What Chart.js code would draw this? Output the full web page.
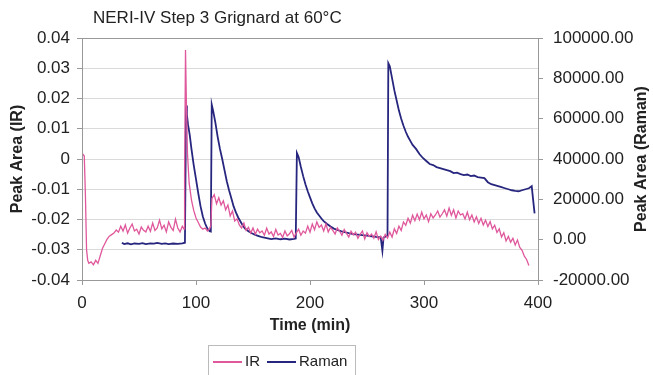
<!DOCTYPE html>
<html>
<head>
<meta charset="utf-8">
<script src="https://cdn.jsdelivr.net/npm/chart.js@4"></script>
<style>
  html, body { margin: 0; padding: 0; background: #fff; }
</style>
</head>
<body>
<canvas id="chart" width="653" height="375"></canvas>
<script>
// --- Data ---
const chartTitle = 'NERI-IV Step 3 Grignard at 60°C';

const irTime = [0, 1, 2, 3, 4, 5, 6, 8, 10, 12, 14, 16, 18, 20, 22, 24, 26, 28, 30, 32, 34, 36, 38, 40,
  42, 44, 46, 48, 50, 52, 54, 56, 58, 60, 62, 64, 66, 68, 70, 72, 74, 76, 78, 80, 82, 84, 86, 88, 89.5,
  90, 90.8, 91.5, 92.5, 94, 96, 98, 100, 102, 104, 106, 108, 110, 112, 113, 114, 116, 118, 120, 122,
  124, 126, 128, 130, 132, 134, 136, 138, 140, 142, 144, 146, 148, 150, 152, 154, 156, 158, 160, 162,
  164, 166, 168, 170, 172, 174, 176, 178, 180, 182, 184, 186, 188, 190, 192, 194, 196, 198, 200, 202,
  204, 206, 208, 210, 212, 214, 216, 218, 220, 222, 224, 226, 228, 230, 232, 234, 236, 238, 240, 242,
  244, 246, 248, 250, 252, 254, 256, 258, 260, 262, 264, 266, 268, 270, 272, 274, 276, 278, 280, 282,
  284, 286, 288, 290, 292, 294, 296, 298, 300, 302, 304, 306, 308, 310, 312, 314, 316, 318, 320, 322,
  324, 326, 328, 330, 332, 334, 336, 338, 340, 342, 344, 346, 348, 350, 352, 354, 356, 358, 360, 362,
  364, 366, 368, 370, 372, 374, 376, 378, 380, 382, 384, 386, 388, 390, 392];
const irPeak = [0.0005, 0.0015, 0.001, -0.012, -0.030, -0.0335, -0.0345, -0.034, -0.035, -0.0335, -0.0345,
  -0.032, -0.0295, -0.028, -0.0265, -0.0255, -0.025, -0.0245,
  -0.0235, -0.0242, -0.0222, -0.0238, -0.0218, -0.0245, -0.0228, -0.0215, -0.0238, -0.0232, -0.0248, -0.0225,
  -0.0236, -0.0241, -0.0222, -0.0239, -0.0212, -0.0236, -0.0228, -0.0202, -0.0231, -0.0219, -0.0241, -0.0208,
  -0.0226, -0.0236, -0.0199, -0.0228, -0.0241, -0.0222, -0.0232,
  -0.005, 0.036, 0.02, 0.002, -0.008, -0.0135, -0.017, -0.0195, -0.021, -0.0225, -0.0232, -0.0228, -0.0238,
  -0.023, -0.022, -0.013, -0.0118, -0.0148, -0.0128, -0.0152,
  -0.0138, -0.0168, -0.0152, -0.0188, -0.0172, -0.0205, -0.0198, -0.0218, -0.0228, -0.0212, -0.0236, -0.0226,
  -0.0245, -0.0228, -0.0249, -0.0232, -0.0244, -0.0238, -0.0252, -0.0229,
  -0.0248, -0.0241, -0.0256, -0.0233, -0.0251, -0.0246, -0.0259, -0.0238, -0.0254, -0.0247, -0.0236, -0.0258,
  -0.0244, -0.0232, -0.0252, -0.0238, -0.0245, -0.0222, -0.0242, -0.0215,
  -0.0234, -0.0208, -0.0226, -0.0218, -0.0238, -0.0215, -0.0241, -0.0226, -0.0236, -0.0248, -0.0228, -0.0239,
  -0.0252, -0.0233, -0.0246, -0.0258, -0.0239, -0.0251, -0.0242, -0.0262,
  -0.0249, -0.0238, -0.0264, -0.0244, -0.0256, -0.0248, -0.0262, -0.0241, -0.0266, -0.0255, -0.0268, -0.0249,
  -0.0261, -0.0242, -0.0258, -0.0231, -0.0246, -0.0222, -0.0236, -0.0208,
  -0.0219, -0.0196, -0.0212, -0.0186, -0.0204, -0.0182, -0.0201, -0.0176, -0.0198, -0.0185, -0.0207, -0.0181,
  -0.0195, -0.0185, -0.0172, -0.0192, -0.0181, -0.0168, -0.0189, -0.0162,
  -0.0186, -0.0168, -0.0195, -0.0172, -0.0185, -0.0181, -0.0198, -0.0176, -0.0201, -0.0185, -0.0208, -0.0191,
  -0.0213, -0.0196, -0.0218, -0.0202, -0.0223, -0.0207, -0.0231, -0.0219,
  -0.0243, -0.0231, -0.0258, -0.0244, -0.0271, -0.0256, -0.0275, -0.0262, -0.0284, -0.0268, -0.0292, -0.0302,
  -0.0321, -0.0332, -0.0352];

const ramanTime = [35, 37, 40, 43, 46, 50, 53, 56, 60, 63, 66, 70, 73, 76, 80, 84, 88, 90.3,
  91.3, 92, 93, 94.5, 96, 98, 100, 102, 104, 106, 108, 110, 112, 113,
  113.8, 115, 117, 119, 121, 123, 125, 127, 129, 131, 133, 135, 137, 139, 141, 143, 146, 149, 152, 155,
  158, 162, 166, 170, 174, 178, 182, 186, 187.5,
  188.5, 190, 192, 194, 196, 198, 200, 202, 204, 206, 208, 210, 212, 215, 218, 221, 224, 227, 230, 234,
  238, 242, 246, 250, 254, 258, 262, 263.5, 264.5, 266, 268,
  268.7, 270, 272, 274, 276, 278, 280, 282, 284, 286, 288, 290, 293, 296, 299, 302, 305, 308, 311, 314,
  317, 320, 323, 326, 329, 332, 335, 338, 341, 344, 347, 350, 353, 356, 359, 362, 365, 368, 371, 374,
  377, 380, 383, 386, 389, 392, 394.5, 395.5, 397];
const ramanPeak = [-1500, -2200, -1800, -2300, -1900, -2100, -1700, -2200, -1800, -2000, -1600, -2100,
  -1800, -2200, -1900, -2100, -1800, -1500,
  66500, 62000, 57000, 52000, 45000, 37000, 30000, 23000, 16500, 11500, 8000, 5500, 4200, 4000,
  67000, 64000, 58000, 51000, 45000, 40000, 34500, 29000, 24500, 20500, 16500, 13500, 11000, 9000, 7000,
  5500, 4200, 3200, 2400, 1800, 1200, 800, 300, 600, 200, 500, 100, 400, 600,
  43000, 41000, 36000, 31500, 27500, 24000, 21000, 18000, 15500, 13500, 12000, 10500, 9200, 7800, 6500,
  5500, 4800, 4200, 3800, 3200, 2800, 2500, 2200, 2000, 1700, 1400, 1200, -5500, 1000, 1500, 2000,
  87500, 86000, 80000, 74000, 69000, 64000, 60000, 56500, 53500, 51000, 49000, 47000, 45000, 42500,
  40500, 39000, 37500, 37000, 36000, 35500, 35000, 34500, 34000, 33000, 33200, 32500, 32000, 32300,
  31500, 31800, 31000, 30800, 30500, 28500, 27500, 27000, 26500, 26000, 25500, 25000, 24500, 24200,
  24000, 24500, 25000, 25500, 26500, 21000, 13000];

const irColor = '#e0589c';
const ramanColor = '#27267f';
const font = "'Liberation Sans', Arial, sans-serif";

function toPoints(xs, ys) {
    return xs.map((x, i) => ({ x: x, y: ys[i] }));
}

// draws the title, the plot frame, the right axis title and the boxed legend
const decorPlugin = {
    id: 'decor',
    afterDraw(chart) {
        const ctx = chart.ctx;
        const a = chart.chartArea;
        ctx.save();
        ctx.strokeStyle = '#999';
        ctx.lineWidth = 1;
        ctx.strokeRect(a.left + 0.5, a.top + 0.5, a.right - a.left, a.bottom - a.top);

        ctx.fillStyle = '#222';
        ctx.font = '17px ' + font;
        ctx.textBaseline = 'middle';
        ctx.fillText(chartTitle, 93, 18);

        // right axis title reads bottom to top
        ctx.save();
        ctx.translate(642, (a.top + a.bottom) / 2);
        ctx.rotate(-Math.PI / 2);
        ctx.textAlign = 'center';
        ctx.font = 'bold 16px ' + font;
        ctx.fillText('Peak Area (Raman)', 0, 0);
        ctx.restore();

        // legend box
        ctx.strokeStyle = '#bbb';
        ctx.strokeRect(208.5, 345.5, 147, 34);
        ctx.font = '15px ' + font;
        let x = 213;
        chart.data.datasets.forEach(ds => {
            ctx.strokeStyle = ds.borderColor;
            ctx.lineWidth = 2;
            ctx.beginPath();
            ctx.moveTo(x, 362);
            ctx.lineTo(x + 29, 362);
            ctx.stroke();
            ctx.fillStyle = '#222';
            ctx.fillText(ds.label, x + 32, 362);
            x += 32 + ctx.measureText(ds.label).width + 7;
        });
        ctx.restore();
    }
};

new Chart(document.getElementById('chart'), {
    type: 'line',
    data: {
        datasets: [
            {
                label: 'IR',
                data: toPoints(irTime, irPeak),
                borderColor: irColor,
                borderWidth: 1.3,
                yAxisID: 'y'
            },
            {
                label: 'Raman',
                data: toPoints(ramanTime, ramanPeak),
                borderColor: ramanColor,
                borderWidth: 1.8,
                yAxisID: 'y1'
            }
        ]
    },
    options: {
        responsive: false,
        animation: false,
        parsing: false,
        elements: { point: { radius: 0 }, line: { tension: 0 } },
        layout: { padding: { left: 8, right: 5, top: 38, bottom: 40 } },
        plugins: { legend: { display: false }, tooltip: { enabled: false } },
        scales: {
            x: {
                type: 'linear',
                min: 0,
                max: 400,
                ticks: { stepSize: 100, color: '#222', font: { family: font, size: 17 }, padding: 8, maxRotation: 0 },
                grid: { drawOnChartArea: false, tickLength: 5, tickColor: '#999' },
                border: { color: '#999' },
                title: { display: true, text: 'Time (min)', color: '#222', padding: 0, font: { family: font, size: 16, weight: 'bold' } },
                afterFit: s => { s.height = 55; }
            },
            y: {
                position: 'left',
                min: -0.04,
                max: 0.04,
                ticks: {
                    stepSize: 0.01, color: '#222', padding: 7, font: { family: font, size: 17 },
                    callback: v => String(Math.round(v * 100) / 100)
                },
                grid: { color: '#dadada', tickLength: 5, tickColor: '#999' },
                border: { color: '#999' },
                title: { display: true, text: 'Peak Area (IR)', color: '#222', padding: 0, font: { family: font, size: 16, weight: 'bold' } },
                afterFit: s => { s.width = 74; }
            },
            y1: {
                position: 'right',
                min: -20000,
                max: 100000,
                ticks: { stepSize: 20000, color: '#222', padding: 10, font: { family: font, size: 17 }, callback: v => v.toFixed(2) },
                grid: { drawOnChartArea: false, tickLength: 5, tickColor: '#999' },
                border: { color: '#999' },
                afterFit: s => { s.width = 110; }
            }
        }
    },
    plugins: [decorPlugin]
});
</script>
</body>
</html>
